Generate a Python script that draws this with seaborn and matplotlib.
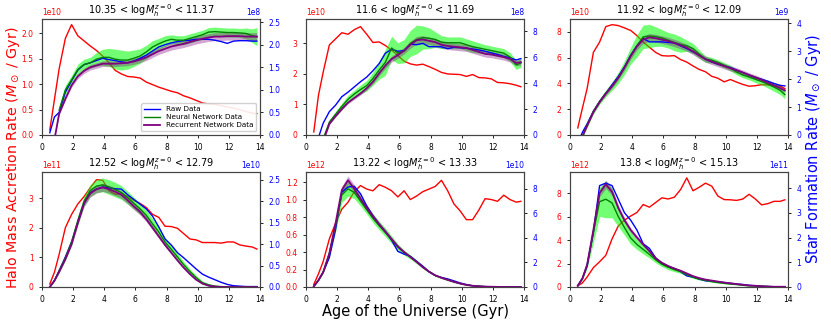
import numpy as np
import matplotlib
matplotlib.use("Agg")
import matplotlib.pyplot as plt
import seaborn as sns
from matplotlib.ticker import MultipleLocator

nan = np.nan

# time grid (Gyr)
age = [0.5, 0.8, 1.1, 1.5, 1.9, 2.3, 2.7, 3.1, 3.5, 3.9, 4.3, 4.7, 5.1, 5.5, 5.9, 6.3, 6.7, 7.1,
       7.5, 7.9, 8.3, 8.7, 9.1, 9.5, 9.9, 10.3, 10.7, 11.1, 11.5, 11.9, 12.3, 12.7, 13.1, 13.5, 13.8]

mass_lo = ['10.35', '11.6', '11.92', '12.52', '13.22', '13.8']
mass_hi = ['11.37', '11.69', '12.09', '12.79', '13.33', '15.13']
red_exp = [10, 10, 10, 11, 12, 12]
sfr_exp = [8, 8, 9, 10, 10, 11]

# halo mass accretion rate (red, left axis, in units of 10^red_exp)
p1_red = [0.1, 0.7, 1.3, 1.9, 2.17, 1.95, 1.85, 1.75, 1.66, 1.55, 1.42, 1.27, 1.2, 1.15, 1.14, 1.12, 1.04, 0.99,
          0.94, 0.9, 0.86, 0.83, 0.77, 0.73, 0.68, 0.63, 0.61, 0.6, 0.58, 0.55, 0.53, 0.5, 0.46, 0.43, 0.42]
p2_red = [0.1, 1.3, 2.05, 2.95, 3.15, 3.35, 3.3, 3.45, 3.55, 3.3, 3.03, 3.05, 2.93, 2.78, 2.6, 2.42, 2.33, 2.29,
          2.32, 2.24, 2.15, 2.05, 2.0, 1.99, 1.98, 1.92, 1.98, 1.88, 1.87, 1.84, 1.72, 1.71, 1.68, 1.63, 1.58]
p3_red = [0.55, 2.1, 3.6, 6.4, 7.2, 8.4, 8.55, 8.48, 8.3, 8.1, 7.7, 7.2, 6.8, 6.4, 6.15, 6.12, 6.15, 5.85,
          5.65, 5.35, 5.08, 4.9, 4.55, 4.4, 4.12, 4.3, 4.1, 3.92, 3.78, 3.82, 3.9, 3.88, 3.84, 3.78, 3.6]
p4_red = [0.1, 0.5, 1.1, 2.0, 2.45, 2.8, 3.05, 3.35, 3.62, 3.6, 3.25, 3.13, 3.15, 3.05, 2.92, 2.82, 2.68, 2.45,
          2.35, 2.05, 2.04, 1.98, 1.8, 1.62, 1.59, 1.5, 1.5, 1.5, 1.48, 1.52, 1.52, 1.42, 1.38, 1.35, 1.28]
p5_red = [0.03, 0.15, 0.29, 0.55, 0.73, 0.89, 0.97, 1.09, 1.16, 1.12, 1.1, 1.17, 1.14, 1.1, 1.03, 1.1, 1.0, 1.04,
          1.09, 1.12, 1.15, 1.22, 1.1, 0.95, 0.87, 0.77, 0.77, 0.88, 1.01, 1.0, 0.98, 1.05, 1.0, 0.97, 0.98]
p6_red = [0.1, 0.35, 0.85, 1.65, 2.15, 2.7, 4.1, 5.2, 5.7, 6.05, 6.35, 7.03, 6.8, 7.2, 7.6, 7.5, 7.65, 8.3,
          9.3, 8.2, 8.5, 8.85, 8.6, 7.75, 7.45, 7.43, 7.38, 7.5, 7.9, 7.5, 7.0, 7.1, 7.3, 7.3, 7.43]

# star formation rate, raw data (blue, right axis, units of 10^sfr_exp)
p1_raw = [0.05, 0.4, 0.5, 0.95, 1.2, 1.44, 1.56, 1.6, 1.65, 1.7, 1.67, 1.65, 1.62, 1.6, 1.64, 1.7, 1.77, 1.86,
          1.95, 2.0, 2.04, 2.07, 2.09, 2.1, 2.12, 2.12, 2.12, 2.1, 2.07, 2.03, 2.08, 2.09, 2.09, 2.08, 2.08]
p2_raw = [-0.5, -0.2, 0.9, 1.8, 2.3, 2.95, 3.3, 3.7, 4.1, 4.46, 4.95, 5.5, 6.3, 6.6, 6.45, 6.5, 7.0, 6.95,
          7.05, 6.8, 6.8, 6.79, 6.65, 6.75, 6.72, 6.68, 6.62, 6.55, 6.45, 6.32, 6.2, 6.05, 5.94, 5.78, 5.88]
p3_raw = [-0.3, 0.1, 0.4, 0.85, 1.2, 1.5, 1.8, 2.1, 2.45, 2.87, 3.2, 3.46, 3.34, 3.34, 3.34, 3.32, 3.3, 3.2,
          3.1, 2.98, 2.87, 2.72, 2.62, 2.54, 2.48, 2.42, 2.33, 2.24, 2.15, 2.06, 2.0, 1.93, 1.85, 1.78, 1.76]
p4_raw = [0.0, 0.15, 0.38, 0.7, 1.05, 1.5, 1.95, 2.2, 2.28, 2.33, 2.31, 2.29, 2.28, 2.15, 2.04, 1.93, 1.82, 1.65,
          1.4, 1.12, 0.98, 0.8, 0.68, 0.55, 0.42, 0.3, 0.23, 0.17, 0.11, 0.06, 0.03, 0.02, 0.01, 0.01, 0.01]
p5_raw = [0.05, 0.55, 1.2, 2.4, 4.7, 7.73, 8.15, 8.2, 7.6, 6.6, 5.8, 5.1, 4.5, 3.8, 2.9, 2.68, 2.5, 2.1,
          1.7, 1.25, 0.93, 0.78, 0.66, 0.5, 0.33, 0.2, 0.1, 0.06, 0.03, 0.02, 0.01, 0.0, 0.0, 0.0, 0.0]
p6_raw = [0.05, 0.35, 0.85, 2.2, 4.1, 4.2, 4.1, 3.55, 3.0, 2.7, 2.3, 1.75, 1.56, 1.18, 0.95, 0.82, 0.75, 0.62,
          0.45, 0.4, 0.32, 0.25, 0.23, 0.21, 0.18, 0.15, 0.12, 0.1, 0.07, 0.05, 0.03, 0.02, 0.01, 0.01, 0.01]

# neural network prediction (mean and spread)
p1_nn = [nan, nan, 0.55, 1.0, 1.22, 1.45, 1.56, 1.6, 1.68, 1.72, 1.72, 1.68, 1.66, 1.66, 1.7, 1.75, 1.84, 1.95,
         2.02, 2.08, 2.12, 2.1, 2.1, 2.14, 2.18, 2.22, 2.28, 2.29, 2.28, 2.27, 2.27, 2.26, 2.25, 2.2, 2.18]
p2_nn = [nan, nan, -0.3, 1.0, 1.6, 2.2, 2.75, 3.15, 3.5, 3.8, 4.35, 5.0, 5.6, 6.7, 6.3, 6.45, 7.05, 7.35,
         7.5, 7.45, 7.35, 7.15, 7.1, 7.1, 7.1, 6.95, 6.8, 6.7, 6.6, 6.5, 6.4, 6.3, 6.0, 5.4, 5.55]
p3_nn = [nan, -0.05, 0.35, 0.85, 1.2, 1.5, 1.75, 2.05, 2.42, 2.85, 3.2, 3.52, 3.55, 3.53, 3.48, 3.4, 3.32, 3.25,
         3.2, 3.1, 2.9, 2.72, 2.68, 2.6, 2.5, 2.4, 2.26, 2.15, 2.08, 2.0, 1.92, 1.83, 1.72, 1.6, 1.45]
p4_nn = [0.0, 0.15, 0.38, 0.68, 1.05, 1.55, 2.0, 2.25, 2.35, 2.38, 2.33, 2.27, 2.2, 2.08, 1.95, 1.82, 1.67, 1.47,
         1.28, 1.05, 0.88, 0.7, 0.52, 0.36, 0.22, 0.1, 0.05, 0.02, 0.01, 0.0, 0.0, 0.0, 0.0, 0.0, 0.0]
p5_nn = [0.05, 0.55, 1.2, 2.8, 5.0, 7.5, 8.0, 7.7, 7.0, 6.3, 5.6, 5.0, 4.45, 3.85, 3.25, 2.8, 2.45, 2.05,
         1.62, 1.25, 0.95, 0.75, 0.58, 0.42, 0.28, 0.17, 0.1, 0.06, 0.03, 0.02, 0.01, 0.0, 0.0, 0.0, 0.0]
p6_nn = [0.05, 0.35, 0.9, 2.2, 3.45, 3.55, 3.4, 2.85, 2.4, 1.98, 1.72, 1.52, 1.32, 1.1, 0.92, 0.8, 0.7, 0.62,
         0.5, 0.4, 0.32, 0.27, 0.22, 0.18, 0.15, 0.12, 0.1, 0.07, 0.05, 0.04, 0.03, 0.02, 0.01, 0.01, 0.01]

p1_nn_sd = [nan, nan, 0.08, 0.1, 0.1, 0.12, 0.12, 0.12, 0.15, 0.18, 0.2, 0.22, 0.22, 0.2, 0.18, 0.16, 0.15, 0.14,
            0.12, 0.12, 0.1, 0.1, 0.1, 0.1, 0.1, 0.1, 0.1, 0.1, 0.1, 0.1, 0.1, 0.1, 0.12, 0.15, 0.2]
p2_nn_sd = [nan, nan, 0.1, 0.15, 0.2, 0.25, 0.3, 0.3, 0.35, 0.4, 0.5, 0.7, 1.0, 0.9, 0.8, 0.9, 1.0, 1.1,
            0.9, 0.8, 0.6, 0.5, 0.45, 0.45, 0.45, 0.45, 0.45, 0.4, 0.35, 0.35, 0.35, 0.35, 0.35, 0.35, 0.35]
p3_nn_sd = [nan, 0.05, 0.08, 0.1, 0.1, 0.12, 0.15, 0.2, 0.25, 0.3, 0.4, 0.42, 0.42, 0.35, 0.3, 0.28, 0.3, 0.28,
            0.2, 0.18, 0.15, 0.12, 0.1, 0.1, 0.1, 0.1, 0.1, 0.1, 0.1, 0.12, 0.12, 0.14, 0.15, 0.15, 0.15]
p4_nn_sd = [0.0, 0.02, 0.04, 0.06, 0.08, 0.1, 0.12, 0.14, 0.15, 0.16, 0.17, 0.17, 0.16, 0.15, 0.14, 0.13, 0.12, 0.12,
            0.11, 0.1, 0.09, 0.08, 0.07, 0.06, 0.05, 0.04, 0.03, 0.02, 0.01, 0.0, 0.0, 0.0, 0.0, 0.0, 0.0]
p5_nn_sd = [0.0, 0.05, 0.1, 0.3, 0.5, 0.6, 0.6, 0.5, 0.4, 0.35, 0.35, 0.35, 0.35, 0.3, 0.25, 0.2, 0.18, 0.15,
            0.12, 0.1, 0.08, 0.07, 0.06, 0.05, 0.04, 0.03, 0.02, 0.01, 0.0, 0.0, 0.0, 0.0, 0.0, 0.0, 0.0]
p6_nn_sd = [0.0, 0.05, 0.15, 0.4, 0.6, 0.75, 0.6, 0.4, 0.3, 0.25, 0.2, 0.18, 0.15, 0.12, 0.1, 0.1, 0.08, 0.07,
            0.06, 0.05, 0.04, 0.03, 0.03, 0.02, 0.02, 0.02, 0.01, 0.01, 0.01, 0.0, 0.0, 0.0, 0.0, 0.0, 0.0]

# recurrent network prediction
p1_rnn = [nan, -0.1, 0.47, 0.8, 1.1, 1.3, 1.42, 1.5, 1.54, 1.58, 1.58, 1.58, 1.59, 1.6, 1.63, 1.67, 1.72, 1.79,
          1.86, 1.91, 1.96, 1.99, 2.02, 2.06, 2.1, 2.13, 2.16, 2.18, 2.18, 2.19, 2.19, 2.19, 2.18, 2.18, 2.18]
p2_rnn = [nan, nan, -0.5, 0.85, 1.45, 2.0, 2.5, 2.85, 3.2, 3.6, 4.1, 4.75, 5.35, 5.85, 6.15, 6.5, 6.95, 7.3,
          7.35, 7.25, 7.15, 6.95, 6.85, 6.8, 6.75, 6.7, 6.55, 6.4, 6.25, 6.2, 6.1, 6.0, 5.85, 5.55, 5.6]
p3_rnn = [nan, -0.05, 0.33, 0.82, 1.18, 1.48, 1.75, 2.05, 2.42, 2.83, 3.18, 3.42, 3.5, 3.47, 3.42, 3.37, 3.3, 3.22,
          3.13, 3.0, 2.85, 2.72, 2.63, 2.55, 2.47, 2.39, 2.32, 2.24, 2.15, 2.07, 1.98, 1.88, 1.78, 1.68, 1.6]
p4_rnn = [0.0, 0.15, 0.35, 0.65, 1.0, 1.5, 1.95, 2.18, 2.28, 2.32, 2.28, 2.22, 2.15, 2.02, 1.88, 1.75, 1.58, 1.38,
          1.18, 0.98, 0.8, 0.62, 0.45, 0.3, 0.17, 0.08, 0.03, 0.01, 0.0, 0.0, 0.0, 0.0, 0.0, 0.0, 0.0]
p5_rnn = [0.05, 0.55, 1.2, 2.7, 5.2, 7.9, 8.7, 8.0, 7.2, 6.45, 5.75, 5.1, 4.5, 3.9, 3.3, 2.85, 2.45, 2.05,
          1.62, 1.25, 0.95, 0.75, 0.58, 0.42, 0.28, 0.17, 0.1, 0.06, 0.03, 0.02, 0.01, 0.0, 0.0, 0.0, 0.0]
p6_rnn = [0.05, 0.35, 0.9, 2.3, 3.8, 4.15, 3.85, 3.2, 2.7, 2.3, 2.0, 1.72, 1.45, 1.16, 0.98, 0.85, 0.75, 0.66,
          0.55, 0.44, 0.36, 0.3, 0.26, 0.22, 0.18, 0.15, 0.12, 0.09, 0.06, 0.05, 0.03, 0.02, 0.01, 0.01, 0.01]

red_all = [p1_red, p2_red, p3_red, p4_red, p5_red, p6_red]
raw_all = [p1_raw, p2_raw, p3_raw, p4_raw, p5_raw, p6_raw]
nn_all = [p1_nn, p2_nn, p3_nn, p4_nn, p5_nn, p6_nn]
nn_sd_all = [p1_nn_sd, p2_nn_sd, p3_nn_sd, p4_nn_sd, p5_nn_sd, p6_nn_sd]
rnn_all = [p1_rnn, p2_rnn, p3_rnn, p4_rnn, p5_rnn, p6_rnn]

# axis limits / tick steps (display units)
left_top = [2.28, 3.8, 8.99, 3.88, 1.315, 9.8]
right_top = [2.57, 8.93, 4.16, 2.68, 9.37, 4.65]
left_step = [0.5, 1, 2, 1, 0.2, 2]
right_step = [0.5, 2, 1, 0.5, 2, 1]

fig = plt.figure(figsize=(8.31, 3.23), dpi=100)
W, H = 831, 323
col_x = [42, 306, 570]
row_y = [(19, 135), (172, 287)]
x = np.array(age)

for i in range(6):
    r, c = divmod(i, 3)
    top, bot = row_y[r]
    ax = fig.add_axes([col_x[c] / W, 1 - bot / H, 218 / W, (bot - top) / H])
    rs = 10.0 ** red_exp[i]
    ss = 10.0 ** sfr_exp[i]

    sns.lineplot(x=x, y=np.array(red_all[i]) * rs, ax=ax, color='red', linewidth=1.0, legend=False)
    ax.set_xlim(0, 14)
    ax.set_ylim(0, left_top[i] * rs)
    ax.xaxis.set_major_locator(MultipleLocator(2))
    ax.yaxis.set_major_locator(MultipleLocator(left_step[i] * rs))
    ax.tick_params(labelsize=5.5, length=2.5, width=0.6)
    ax.tick_params(axis='y', labelcolor='red')
    ax.yaxis.get_offset_text().set_fontsize(5.5)
    ax.yaxis.get_offset_text().set_color('red')
    ax.set_xlabel('')
    ax.set_ylabel('')

    ax2 = ax.twinx()
    nn = np.array(nn_all[i]) * ss
    sd = np.array(nn_sd_all[i]) * ss
    rnn = np.array(rnn_all[i]) * ss
    ax2.fill_between(x, nn - sd, nn + sd, color='lime', alpha=0.55, linewidth=0)
    ax2.fill_between(x, rnn * 0.96, rnn * 1.04, color='purple', alpha=0.35, linewidth=0)
    sns.lineplot(x=x, y=np.array(raw_all[i]) * ss, ax=ax2, color='blue', linewidth=1.0,
                 label='Raw Data', legend=False)
    sns.lineplot(x=x, y=nn, ax=ax2, color='green', linewidth=1.0,
                 label='Neural Network Data', legend=False)
    sns.lineplot(x=x, y=rnn, ax=ax2, color='purple', linewidth=1.3,
                 label='Recurrent Network Data', legend=False)
    ax2.set_ylim(0, right_top[i] * ss)
    ax2.yaxis.set_major_locator(MultipleLocator(right_step[i] * ss))
    ax2.tick_params(labelsize=5.5, length=2.5, width=0.6)
    ax2.tick_params(axis='y', labelcolor='blue')
    ax2.yaxis.get_offset_text().set_fontsize(5.5)
    ax2.yaxis.get_offset_text().set_color('blue')
    ax2.set_xlabel('')
    ax2.set_ylabel('')
    for a in (ax, ax2):
        for s in a.spines.values():
            s.set_linewidth(0.8)
            s.set_color('#444444')

    ax.set_title(mass_lo[i] + ' < log$M_h^{z=0}$ < ' + mass_hi[i], fontsize=7, pad=3)

    if i == 0:
        ax2.legend(loc='lower right', fontsize=5.2, handlelength=2.2, borderpad=0.4,
                   labelspacing=0.3, framealpha=0.9)

fig.text(0.016, 0.511, 'Halo Mass Accretion Rate ($M_\\odot$ / Gyr)', color='red', fontsize=10.3,
         rotation=90, ha='center', va='center')
fig.text(0.979, 0.54, 'Star Formation Rate ($M_\\odot$ / Gyr)', color='blue', fontsize=10.5,
         rotation=90, ha='center', va='center')
fig.text(0.5, 0.035, 'Age of the Universe (Gyr)', fontsize=10.5, ha='center', va='center')

fig.savefig('out.png', dpi=100)
